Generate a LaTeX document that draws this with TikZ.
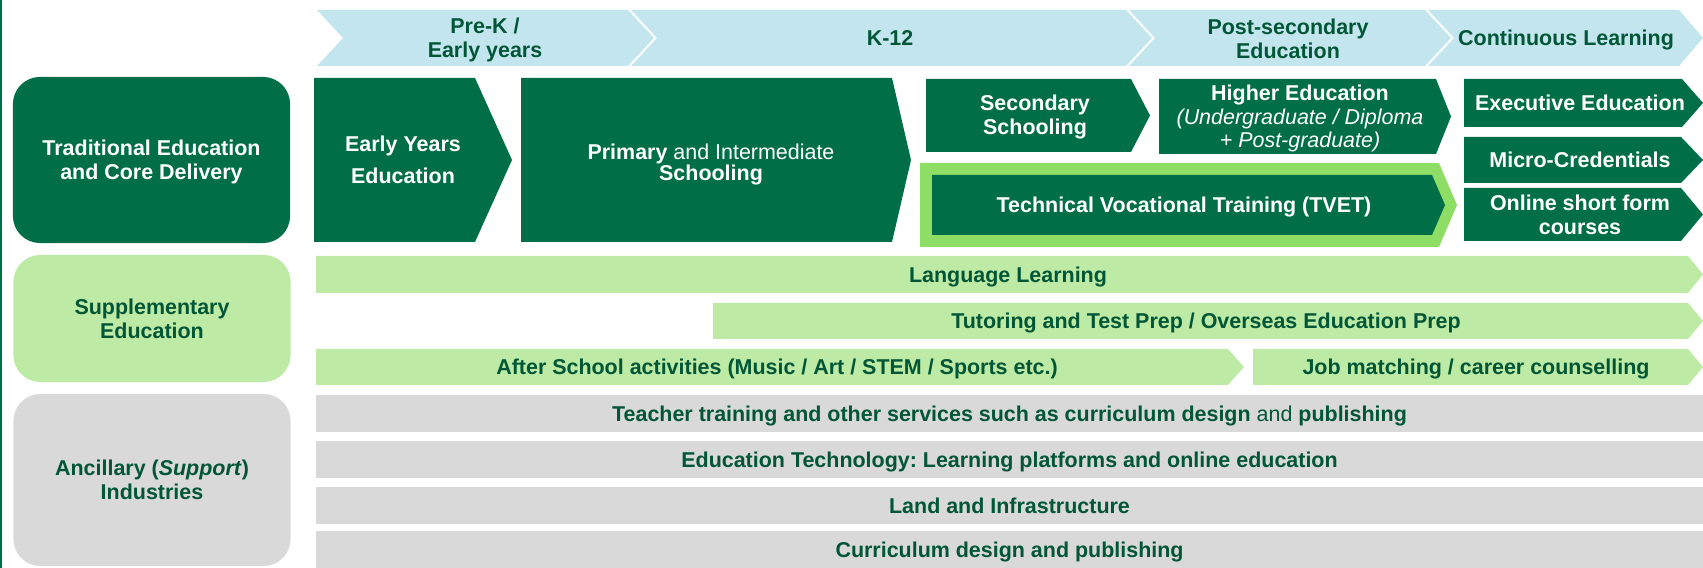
\documentclass[tikz,border=0pt]{standalone}
\usepackage{fontspec}
\setmainfont{Liberation Sans}
\frenchspacing

\definecolor{dkgreen}{RGB}{0,110,70}
\definecolor{txtgreen}{RGB}{0,86,54}
\definecolor{suppgreen}{RGB}{189,234,164}
\definecolor{framegreen}{RGB}{142,221,101}
\definecolor{stageblue}{RGB}{195,230,238}
\definecolor{greybar}{RGB}{217,217,217}

% arrow shaped band: [style] x1 y1 x2 y2 tip notch
\newcommand{\arrowband}[7][]{%
  \fill[#1] (#2,#3) -- ({#4-#6},#3) -- (#4,{(#3+#5)/2}) -- ({#4-#6},#5)
    -- (#2,#5) -- ({#2+#7},{(#3+#5)/2}) -- cycle;}

\begin{document}
\begin{tikzpicture}[x=0.01cm, y=-0.01cm,
    lbl/.style={align=center, inner sep=0pt, text depth=0pt, text=txtgreen,
      font=\fontsize{6.1}{6.7}\selectfont\bfseries},
    wlbl/.style={lbl, text=white},
    catbox/.style={rounded corners=0.27cm, minimum width=2.77cm, align=center,
      inner sep=0pt, text depth=0pt, font=\fontsize{6.1}{6.9}\selectfont\bfseries},
    plainbar/.style={fill=greybar, minimum width=13.87cm, minimum height=0.37cm,
      inner sep=0pt, text depth=0pt, text=txtgreen,
      font=\fontsize{6.1}{6.7}\selectfont\bfseries}
  ]
  \useasboundingbox (0,0) rectangle (1703,568);

  % left edge rule
  \fill[dkgreen] (0,0) rectangle (2.5,568);

  % Stages along the top
  \arrowband[stageblue]{317}{10}{654}{66}{26}{26}
  \arrowband[stageblue]{631}{10}{1152}{66}{26}{26}
  \arrowband[stageblue]{1129}{10}{1451}{66}{26}{26}
  \arrowband[stageblue]{1428}{10}{1703}{66}{24}{26}
  \node[lbl] (prek) at (485,38) {Pre-K /\\Early years};
  \node[lbl] (k12) at (890,38) {K-12};
  \node[lbl] (postsec) at (1288,38.5) {Post-secondary\\Education};
  \node[lbl] (contin) at (1566,38) {Continuous Learning};

  % Categories on the left
  \node[catbox, fill=dkgreen, text=white, minimum height=1.66cm] (trad) at (151.5,160)
    {Traditional Education\\and Core Delivery};
  \node[catbox, fill=suppgreen, text=txtgreen, minimum height=1.27cm] (supp) at (152,318.5)
    {Supplementary\\Education};
  \node[catbox, fill=greybar, text=txtgreen, minimum height=1.72cm] (anc) at (152,480)
    {Ancillary (\textit{Support})\\Industries};

  % Core delivery
  \arrowband[dkgreen]{314}{78}{512}{242}{37}{0}
  \arrowband[dkgreen]{521}{78}{911}{242}{19}{0}
  \arrowband[dkgreen]{926}{79}{1150}{152}{19}{0}
  \arrowband[dkgreen]{1159}{79}{1451}{154}{15}{0}
  \arrowband[framegreen]{920}{163}{1457}{247}{18}{0}
  \arrowband[dkgreen]{932}{175}{1445}{235}{13}{0}
  \arrowband[dkgreen]{1464}{79}{1703}{127}{21}{0}
  \arrowband[dkgreen]{1464}{137}{1703}{183}{22}{0}
  \arrowband[dkgreen]{1464}{188}{1703}{241}{22}{0}
  \node[wlbl, font=\fontsize{6.1}{9}\selectfont\bfseries] (early) at (403,160) {Early Years\\Education};
  \node[wlbl, font=\fontsize{6.1}{6.1}\selectfont\bfseries] (primary) at (711,162)
    {Primary {\mdseries and Intermediate}\\Schooling};
  \node[wlbl] (second) at (1035,115) {Secondary\\Schooling};
  \node[wlbl] (higher) at (1300,116.5)
    {Higher Education\\{\mdseries\itshape (Undergraduate / Diploma}\\{\mdseries\itshape + Post-graduate)}};
  \node[wlbl] (tvet) at (1184,205) {Technical Vocational Training (TVET)};
  \node[wlbl] (exec) at (1580,103) {Executive Education};
  \node[wlbl] (micro) at (1580,160) {Micro-Credentials};
  \node[wlbl] (online) at (1580,214.5) {Online short form\\courses};

  % Supplementary education
  \arrowband[suppgreen]{316}{256}{1703}{293}{15}{0}
  \arrowband[suppgreen]{713}{303}{1703}{339}{15}{0}
  \arrowband[suppgreen]{316}{349}{1244}{385}{16}{0}
  \arrowband[suppgreen]{1253}{349}{1703}{385}{15}{0}
  \node[lbl] (lang) at (1008,275) {Language Learning};
  \node[lbl] (tutor) at (1206,321) {Tutoring and Test Prep / Overseas Education Prep};
  \node[lbl] (after) at (777,367) {After School activities (Music / Art / STEM / Sports etc.)};
  \node[lbl] (jobs) at (1476,367) {Job matching / career counselling};

  % Ancillary industries
  \node[plainbar] (teach) at (1009.5,413.5)
    {Teacher training and other services such as curriculum design {\mdseries and} publishing};
  \node[plainbar] (edtech) at (1009.5,459.5) {Education Technology: Learning platforms and online education};
  \node[plainbar] (land) at (1009.5,505.5) {Land and Infrastructure};
  \node[plainbar] (curric) at (1009.5,550) {Curriculum design and publishing};
\end{tikzpicture}
\end{document}
